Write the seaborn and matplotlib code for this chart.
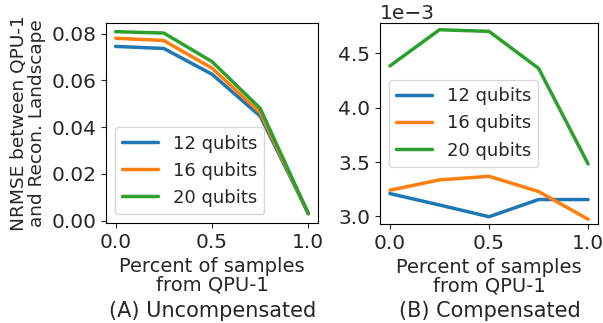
import numpy as np
import pandas as pd
import matplotlib
matplotlib.use("Agg")
import matplotlib.pyplot as plt
import seaborn as sns

x_vals = [0.0, 0.25, 0.5, 0.75, 1.0]
series_names = ["12 qubits", "16 qubits", "20 qubits"]

uncomp_12 = [0.0745, 0.0736, 0.0626, 0.0447, 0.0030]
uncomp_16 = [0.0780, 0.0770, 0.0652, 0.0462, 0.0030]
uncomp_20 = [0.0808, 0.0802, 0.0680, 0.0480, 0.0030]

comp_12 = [0.003210, 0.003105, 0.002997, 0.003155, 0.003155]
comp_16 = [0.003241, 0.003336, 0.003369, 0.003229, 0.002974]
comp_20 = [0.004385, 0.004718, 0.004703, 0.004363, 0.003483]

def long_df(values_list):
    rows = []
    for name, vals in zip(series_names, values_list):
        for xv, yv in zip(x_vals, vals):
            rows.append({"x": xv, "y": yv, "series": name})
    return pd.DataFrame(rows)

df_a = long_df([uncomp_12, uncomp_16, uncomp_20])
df_b = long_df([comp_12, comp_16, comp_20])

sns.set_style("ticks")
plt.rcParams["font.family"] = ["DejaVu Sans"]
plt.rcParams["font.size"] = 13

fig = plt.figure(figsize=(6.03, 3.23), dpi=100)
W, H = 603, 323
ax1 = fig.add_axes([106 / W, 1 - 223 / H, (318 - 106) / W, (223 - 23) / H])
ax2 = fig.add_axes([380 / W, 1 - 224 / H, (598 - 380) / W, (224 - 23) / H])

palette = ["#1f77b4", "#ff7f0e", "#2ca02c"]

sns.lineplot(data=df_a, x="x", y="y", hue="series", palette=palette, linewidth=2.5, ax=ax1)
sns.lineplot(data=df_b, x="x", y="y", hue="series", palette=palette, linewidth=2.5, ax=ax2)

for ax in (ax1, ax2):
    ax.set_xlabel("Percent of samples\nfrom QPU-1", fontsize=14, linespacing=0.95)
    ax.set_xticks([0.0, 0.5, 1.0])
    ax.tick_params(labelsize=14.5)
    for s in ax.spines.values():
        s.set_visible(True)
        s.set_color("black")

ax1.set_ylabel("NRMSE between QPU-1\nand Recon. Landscape", fontsize=13.3, linespacing=0.95)
ax2.set_ylabel("")
ax1.set_yticks([0.0, 0.02, 0.04, 0.06, 0.08])
ax1.set_ylim(-0.001, 0.0845)
ax2.set_ylim(0.00293, 0.00478)
ax2.set_yticks([0.003, 0.0035, 0.004, 0.0045])
ax2.ticklabel_format(axis="y", style="sci", scilimits=(-3, -3))
ax2.yaxis.get_offset_text().set_fontsize(14.5)

ax1.legend(loc="lower left", fontsize=13, title=None)
ax2.legend(loc="center left", fontsize=13, title=None)

fig.text(213 / W, 1 - 311 / H, "(A) Uncompensated", ha="center", va="center", fontsize=15)
fig.text(490 / W, 1 - 311 / H, "(B) Compensated", ha="center", va="center", fontsize=15)

fig.savefig("out.png", dpi=100)
